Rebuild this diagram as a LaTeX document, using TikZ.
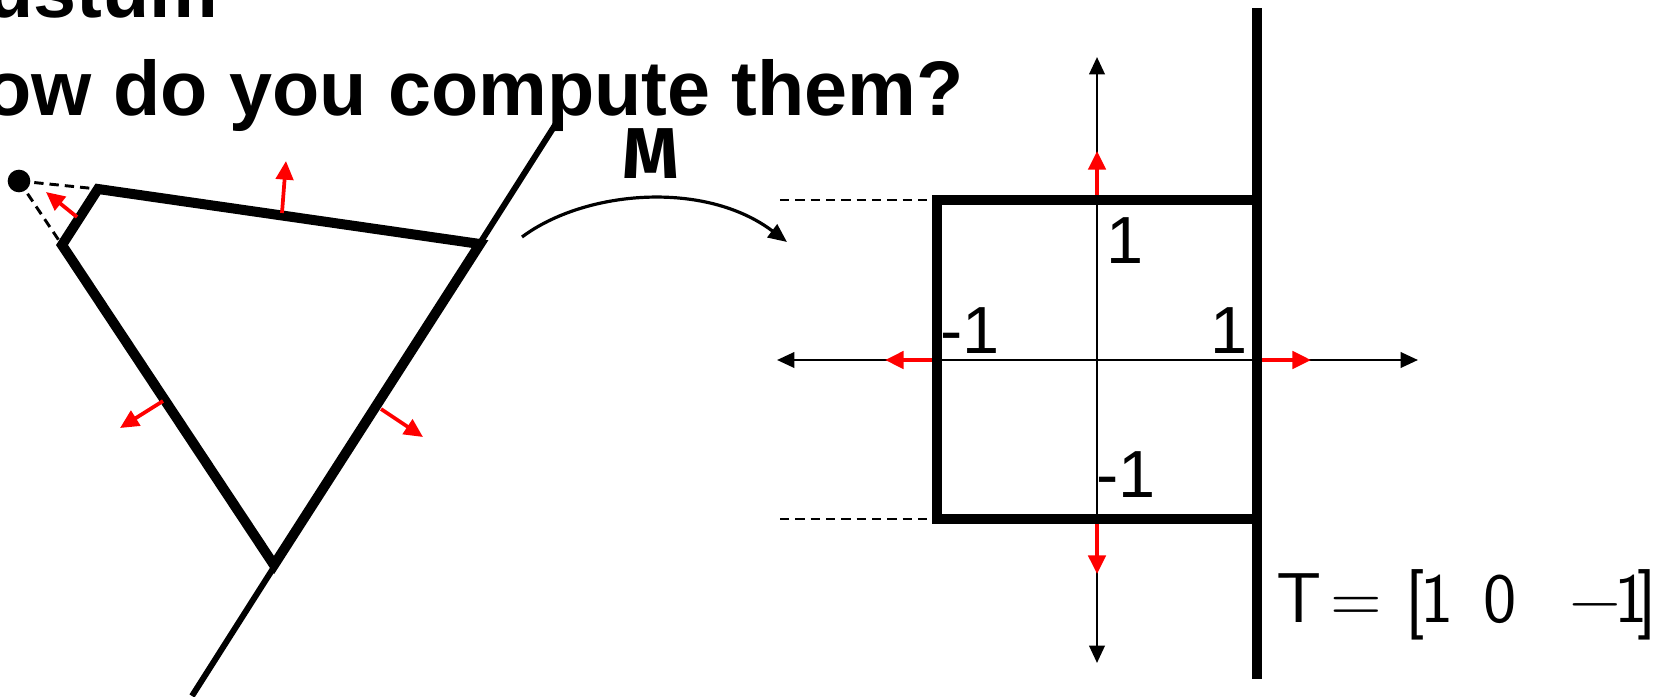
\documentclass[tikz,border=0pt]{standalone}
\usepackage{fontspec}
\setmainfont{Liberation Sans}
\newfontfamily\mfont{Fira Sans}
\usetikzlibrary{arrows.meta}
\begin{document}
\begin{tikzpicture}[x=0.75pt,y=-0.75pt,
  thickline/.style={line width=7.5pt,line join=miter},
  longline/.style={line width=4.5pt},
  sqline/.style={line width=7pt},
  guide/.style={line width=2.2pt,dash pattern=on 7pt off 4.5pt},
  redarrow/.style={red,line width=2.8pt,-{Triangle[length=14pt,width=13pt]}},
  axis/.style={line width=2pt,{Triangle[length=13pt,width=11.5pt]}-{Triangle[length=13pt,width=11.5pt]}},
  numlbl/.style={inner sep=0,font=\fontsize{50}{50}\selectfont},
  titlefont/.style={inner sep=0,font=\fontsize{58}{62}\selectfont\bfseries}]
\useasboundingbox (0,0) rectangle (1663,696);
\clip (0,0) rectangle (1663,696);
% titles
\node[titlefont,anchor=base east] (t1) at (219,17) {ustum};
\node[titlefont,anchor=base east] (t2) at (964,115) {ow do you compute them?};
% frustum
\coordinate (nl) at (98,189);
\coordinate (nb) at (62,245);
\coordinate (nr) at (480,244);
\coordinate (bv) at (274,565);
\coordinate (rt) at (557,122);
\coordinate (rb) at (192,696);
\node[circle,fill,inner sep=0,minimum size=17pt] (eye) at (19,181) {};
\draw[guide] (eye.center) -- (nl);
\draw[guide] (eye.center) -- (nb);
\draw[longline] (rt) -- (rb);
\draw[thickline] (nb) -- (nl) -- (nr) -- (bv) -- cycle;
% normals
\coordinate (n1a) at (77,217);  \coordinate (n1b) at (46,192);
\coordinate (n2a) at (282,213); \coordinate (n2b) at (286,161);
\coordinate (n3a) at (163,401); \coordinate (n3b) at (120,428);
\coordinate (n4a) at (381,409); \coordinate (n4b) at (423,437);
\draw[redarrow] (n1a) -- (n1b);
\draw[redarrow] (n2a) -- (n2b);
\draw[redarrow] (n3a) -- (n3b);
\draw[redarrow] (n4a) -- (n4b);
% mapping arc
\coordinate (a1) at (522,237);
\coordinate (a2) at (787,242);
\draw[line width=2.4pt,-{Triangle[length=14pt,width=12pt]}] (a1) .. controls (585,190) and (705,180) .. (a2);
\node[inner sep=0,font=\fontsize{54}{54}\selectfont\mfont\bfseries] (M) at (651,154) {M};
% canonical view volume
\coordinate (vt) at (1097,57);
\coordinate (vb) at (1097,663);
\coordinate (hl) at (777,360);
\coordinate (hr) at (1418,360);
\draw[axis] (vb) -- (vt);
\draw[axis] (hl) -- (hr);
\coordinate (st) at (1097,200);
\coordinate (sb) at (1097,519);
\coordinate (sl) at (937,360);
\coordinate (sr) at (1257,360);
\coordinate (rt1) at (1097,151);
\coordinate (rb1) at (1097,574);
\coordinate (rl1) at (885,360);
\coordinate (rr1) at (1311,360);
\draw[redarrow] (st) -- (rt1);
\draw[redarrow] (sb) -- (rb1);
\draw[redarrow] (sl) -- (rl1);
\draw[redarrow] (sr) -- (rr1);
\coordinate (d1a) at (780,200); \coordinate (d1b) at (937,200);
\coordinate (d2a) at (780,519); \coordinate (d2b) at (937,519);
\draw[guide] (d1a) -- (d1b);
\draw[guide] (d2a) -- (d2b);
\coordinate (c1) at (937,200);
\coordinate (c2) at (1257,519);
\draw[sqline] (c1) rectangle (c2);
\coordinate (pt) at (1257,8);
\coordinate (pb) at (1257,679);
\draw[sqline] (pt) -- (pb);
\node[numlbl,anchor=base west] (l1) at (1106,263) {1};
\node[numlbl,anchor=base west] (l2) at (940,353) {-1};
\node[numlbl,anchor=base west] (l3) at (1210,353) {1};
\node[numlbl,anchor=base west] (l4) at (1096,497) {-1};
\node[inner sep=0,anchor=base west,font=\fontsize{53}{53}\selectfont\sffamily] (T) at (1276,622)
  {T\hspace{7pt}=\hspace{17pt}[\hspace{-3pt}1\hspace{22pt}0\hspace{40pt}−\hspace{-5pt}1\hspace{-8pt}]};
\end{tikzpicture}
\end{document}
